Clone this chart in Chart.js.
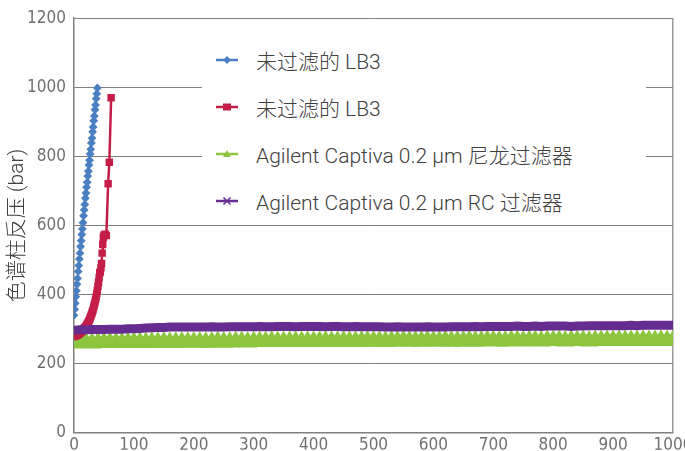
<!DOCTYPE html>
<html>
<head>
<meta charset="utf-8">
<script src="https://cdn.jsdelivr.net/npm/chart.js@4.4.1/dist/chart.umd.min.js"></script>
<style>
  html, body { margin: 0; padding: 0; background: #fff; }
  #wrap { position: relative; width: 685px; height: 451px; }
  #legend {
    position: absolute; left: 202px; top: 30px; width: 444px; height: 186px;
    background: #fff;
    font-family: Roboto, "Noto Sans CJK SC", sans-serif; font-weight: 300;
    font-size: 21px; color: #404040;
  }
  .item { position: absolute; left: 0; height: 26px; display: flex; align-items: center; white-space: nowrap; }
  .item svg { margin-left: 14px; margin-right: 18px; }
</style>
</head>
<body>
<div id="wrap">
  <canvas id="chart" width="685" height="451"></canvas>
  <div id="legend"></div>
</div>
<script>
// Nombres de series
const labels = [
  "未过滤的 LB3",
  "未过滤的 LB3",
  "Agilent Captiva 0.2 µm 尼龙过滤器",
  "Agilent Captiva 0.2 µm RC 过滤器"
];

// Serie 1: sin filtrar (azul)
const blueX = [0,1,2,3,4,5,6,7,8,9,10,11,12,13,14,15,16,17,18,19,20,21,22,23,24,25,26,27,28,29,30,31,32,33,34,35,36,37,38,39];
const blueY = [340,357,375,394,411,430,447,467,484,503,520,539,556,574,590,608,628,645,661,679,694,711,725,743,757,775,789,807,821,839,853,871,885,903,917,935,949,967,981,998];

// Serie 2: sin filtrar (rojo)
const redX = [0,1,2,3,4,5,6,7,8,9,10,11,12,13,14,15,16,17,18,19,20,21,22,23,24,25,26,27,28,29,30,31,32,33,34,35,36,37,38,39,40,41,42,43,44,45,46,47,48,49,50,52,54,57,59,62];
const redY = [279,280,280,281,282,283,284,285,286,287,289,290,292,294,296,298,300,302,304,306,308,311,314,317,320,324,328,332,337,342,347,352,358,364,371,378,386,394,403,413,424,436,449,463,465,478,490,520,545,565,572,575,571,721,783,970];

// Series 3 y 4: filtradas, una muestra cada 10 inyecciones
const filtX = [0,10,20,30,40,50,60,70,80,90,100,110,120,130,140,150,160,170,180,190,200,210,220,230,240,250,260,270,280,290,300,310,320,330,340,350,360,370,380,390,400,410,420,430,440,450,460,470,480,490,500,510,520,530,540,550,560,570,580,590,600,610,620,630,640,650,660,670,680,690,700,710,720,730,740,750,760,770,780,790,800,810,820,830,840,850,860,870,880,890,900,910,920,930,940,950,960,970,980,990,1000];
const greenY = [
  260,261,261,260,261,261,262,261,261,262,
  262,262,261,262,262,263,262,262,263,263,
  263,263,262,263,264,263,263,264,264,263,
  264,264,264,265,264,264,265,265,264,265,
  265,265,266,265,265,266,265,265,266,266,
  266,266,265,266,266,267,266,266,266,267,
  266,266,267,266,266,266,267,266,266,267,
  267,266,266,267,267,266,267,267,266,267,
  267,267,266,267,267,267,266,267,267,267,
  267,268,267,267,267,268,267,267,268,267,
  267
];
const purpleY = [
  297,298,298,299,299,299,300,300,300,301,
  301,302,303,304,305,305,306,306,306,306,
  306,306,306,307,306,306,307,307,307,307,
  307,308,307,307,308,308,308,307,308,308,
  308,308,307,308,308,307,307,308,307,307,
  307,307,306,306,307,306,306,306,306,307,
  306,306,306,307,307,307,307,308,307,308,
  308,308,308,308,309,308,308,309,308,309,
  309,309,309,308,309,309,310,310,310,310,
  310,310,310,311,310,311,311,311,311,311,
  311
];

// Ejes
const yTicks = { min: 0, max: 1200, step: 200 };
const xTicks = { min: 0, max: 1000, step: 100 };

const colors = ["#4a7fc1", "#c41e48", "#8cc63f", "#662d91"];
const styles = ["rectRot", "rect", "triangle", "crossRot"];

const toPoints = (xs, ys) => xs.map((x, i) => ({ x: x, y: ys[i] }));

const gray = "#808080";
const tickFont = { family: "'Liberation Sans Narrow', 'DejaVu Sans Condensed', sans-serif", size: 17 };
const plain = (v) => String(v);

const chart = new Chart(document.getElementById("chart"), {
  type: "line",
  data: {
    datasets: [
      { label: labels[0], data: toPoints(blueX, blueY), borderColor: colors[0], backgroundColor: colors[0],
        borderWidth: 2, pointStyle: styles[0], pointRadius: 3, order: 1 },
      { label: labels[1], data: toPoints(redX, redY), borderColor: colors[1], backgroundColor: colors[1],
        borderWidth: 2.5, pointStyle: styles[1], pointRadius: 3.5, order: 2 },
      { label: labels[2], data: toPoints(filtX, greenY), borderColor: colors[2], backgroundColor: colors[2],
        borderWidth: 8, pointStyle: styles[2], pointRadius: 3, order: 3 },
      { label: labels[3], data: toPoints(filtX, purpleY), borderColor: colors[3], backgroundColor: colors[3],
        borderWidth: 9, pointStyle: styles[3], pointRadius: 4.5, pointBorderWidth: 2, order: 0 }
    ]
  },
  options: {
    responsive: false,
    animation: false,
    layout: { padding: { top: 15, right: 12, left: 0, bottom: 0 } },
    elements: { line: { tension: 0, fill: false } },
    plugins: { legend: { display: false }, tooltip: { enabled: false } },
    scales: {
      x: {
        type: "linear",
        min: xTicks.min, max: xTicks.max,
        ticks: { stepSize: xTicks.step, color: "#707070", font: tickFont, padding: 3, maxRotation: 0, callback: plain },
        grid: {
          drawTicks: false,
          lineWidth: 1.5,
          // solo el borde derecho
          color: (ctx) => (ctx.tick && ctx.tick.value === xTicks.max ? "#9a9a9a" : "transparent")
        },
        border: { color: gray, width: 1.5 },
        afterFit: (s) => { s.height = 17; s.paddingLeft = 0; s.paddingRight = 0; }
      },
      y: {
        min: yTicks.min, max: yTicks.max,
        ticks: { stepSize: yTicks.step, color: "#707070", font: tickFont, padding: 8, callback: plain },
        grid: { drawTicks: false, color: gray, lineWidth: 1 },
        border: { color: gray, width: 1.5 },
        title: {
          display: true,
          text: "色谱柱反压 (bar)",
          color: "#404040",
          font: { family: "Roboto, 'Noto Sans CJK SC', sans-serif", size: 21, weight: 300 },
          padding: { top: 5, bottom: 0 }
        },
        afterFit: (s) => { s.width = 74; }
      }
    }
  }
});

// Leyenda en HTML, construida a partir de los datasets
function markerSvg(style, color) {
  let m = "";
  if (style === "rectRot") m = `<polygon points="11,2 15,6 11,10 7,6" fill="${color}"/>`;
  else if (style === "rect") m = `<rect x="7" y="2.5" width="8" height="7" fill="${color}"/>`;
  else if (style === "triangle") m = `<polygon points="11,2 15,9 7,9" fill="${color}"/>`;
  else m = `<path d="M7.5 2.5 L14.5 9.5 M14.5 2.5 L7.5 9.5" stroke="${color}" stroke-width="1.6"/>`;
  return `<svg width="22" height="12"><line x1="0" y1="6" x2="22" y2="6" stroke="${color}" stroke-width="2.5"/>${m}</svg>`;
}

const legend = document.getElementById("legend");
const rowTop = [17, 64, 111, 158];
chart.data.datasets.forEach((ds, i) => {
  const row = document.createElement("div");
  row.className = "item";
  row.style.top = rowTop[i] + "px";
  row.innerHTML = markerSvg(styles[i], ds.borderColor) + "<span>" + ds.label + "</span>";
  legend.appendChild(row);
});
</script>
</body>
</html>
